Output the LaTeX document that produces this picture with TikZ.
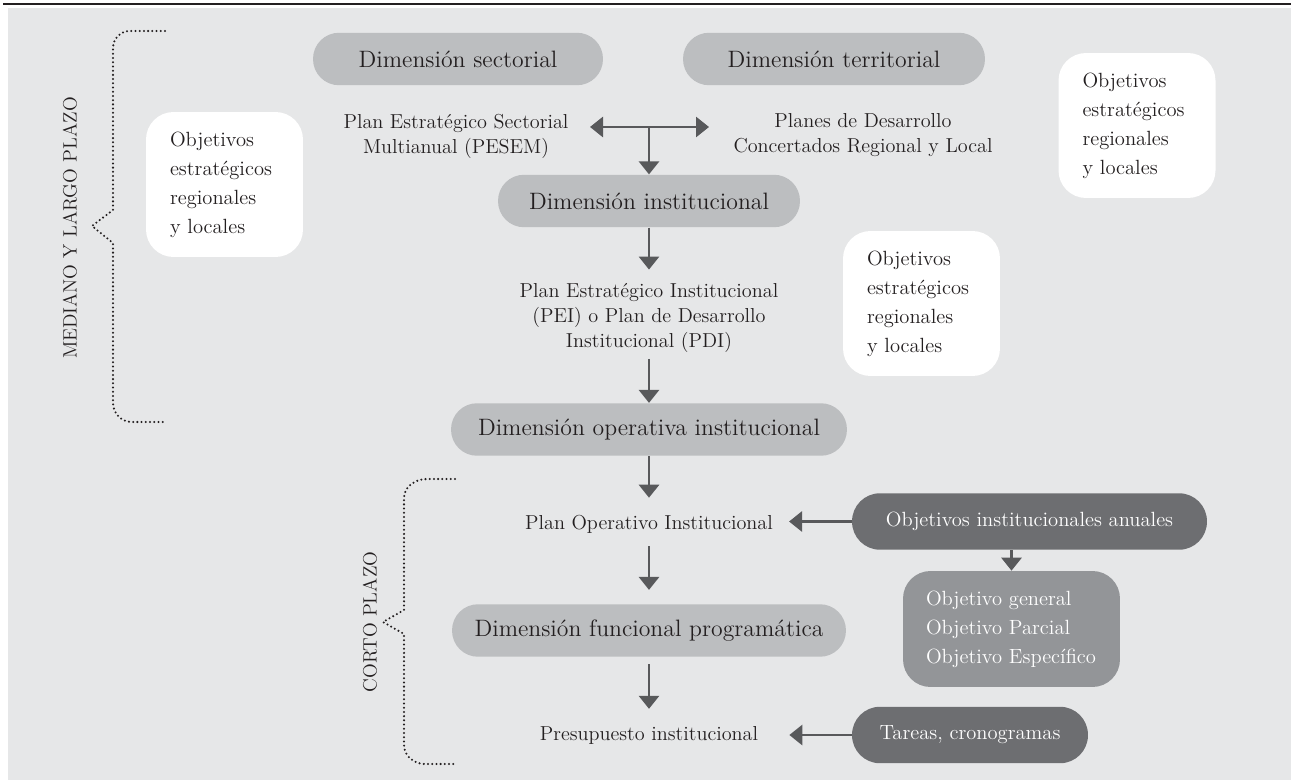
\documentclass[tikz,border=0pt]{standalone}
\usepackage{tikz}
\usetikzlibrary{arrows.meta}

\definecolor{bgc}{HTML}{E6E7E8}
\definecolor{pillc}{HTML}{BCBEC0}
\definecolor{darkc}{HTML}{6D6E71}
\definecolor{midc}{HTML}{939598}
\definecolor{arrc}{HTML}{58595B}
\definecolor{inkc}{HTML}{231F20}

\tikzset{
  pill/.style={fill=pillc, rounded corners=0.52cm, minimum height=1.05cm, text=inkc, font=\fontsize{13.5}{16}\selectfont},
  darkpill/.style={pill, fill=darkc, text=white, minimum height=1.13cm, rounded corners=0.56cm, font=\fontsize{11.7}{14}\selectfont},
  whitebox/.style={fill=white, rounded corners=0.55cm, minimum width=3.14cm, minimum height=2.9cm, text width=2.18cm, inner xsep=0.48cm, align=left, text=inkc, font=\fontsize{11.7}{16.5}\selectfont},
  midbox/.style={fill=midc, rounded corners=0.55cm, minimum width=4.34cm, minimum height=2.32cm, text width=3.42cm, inner xsep=0.46cm, align=left, text=white, font=\fontsize{11.7}{16.5}\selectfont},
  plantxt/.style={align=center, text=inkc, font=\fontsize{11.5}{14.3}\selectfont},
  sidetxt/.style={rotate=90, text=inkc, font=\fontsize{11}{13}\selectfont},
  arr/.style={draw=arrc, line width=1.6pt, -{Triangle[width=0.4cm,length=0.26cm]}},
  dotline/.style={draw=inkc, line width=1.3pt, line cap=round, dash pattern=on 0pt off 2.4pt}
}

\begin{document}
\begin{tikzpicture}[x=0.02cm, y=-0.02cm]
\useasboundingbox (0,0) rectangle (1291,780);
\fill[bgc] (8,8) rectangle (1291,780);
\draw[line width=0.9pt, inkc] (3,4) -- (1291,4);

\node[pill, minimum width=5.8cm] (sect) at (458,59) {Dimensión sectorial};
\node[pill, minimum width=6.04cm] (terr) at (834,59) {Dimensión territorial};
\node[whitebox] (objR) at (1137,125.5) {Objetivos\\estratégicos\\regionales\\y locales};
\node[whitebox] (objL) at (224.5,184.5) {Objetivos\\estratégicos\\regionales\\y locales};
\node[whitebox] (objM) at (921.5,303.5) {Objetivos\\estratégicos\\regionales\\y locales};

\node[plantxt] (pesem) at (456,136) {Plan Estratégico Sectorial\\Multianual (PESEM)};
\node[plantxt] (planes) at (863,135) {Planes de Desarrollo\\Concertados Regional y Local};
\node[pill, minimum width=6.04cm] (instit) at (649,201) {Dimensión institucional};
\node[plantxt] (pei) at (649,318) {Plan Estratégico Institucional\\(PEI) o Plan de Desarrollo\\Institucional (PDI)};
\node[pill, minimum width=7.92cm] (oper) at (649,429.5) {Dimensión operativa institucional};
\node[plantxt] (planop) at (649,524) {Plan Operativo Institucional};
\node[pill, minimum width=7.88cm] (func) at (649,630.5) {Dimensión funcional programática};
\node[plantxt] (presup) at (649,735) {Presupuesto institucional};

\node[darkpill, minimum width=7.1cm] (objanual) at (1029.5,521.5) {Objetivos institucionales anuales};
\node[midbox] (objbox) at (1011.5,629) {Objetivo general\\Objetivo Parcial\\Objetivo Específico};
\node[darkpill, minimum width=4.72cm] (tareas) at (970,735) {Tareas, cronogramas};

\node[sidetxt] (largo) at (70,228) {MEDIANO Y LARGO PLAZO};
\node[sidetxt] (corto) at (370,622) {CORTO PLAZO};

\coordinate (jn) at (649,127);
\coordinate (ltip) at (590,127);
\coordinate (rtip) at (709,127);
\draw[arr] (jn) -- (ltip);
\draw[arr] (jn) -- (rtip);
\draw[arr] (jn) -- (instit.north);
\draw[arr, shorten >=0.15cm] (instit.south) -- (pei.north);
\draw[arr] (pei.south) -- (oper.north);
\draw[arr, shorten >=0.22cm] (oper.south) -- (planop.north);
\draw[arr, shorten <=0.14cm, shorten >=0.28cm] (planop.south) -- (func.north);
\draw[arr, shorten <=0.14cm, shorten >=0.22cm] (func.south) -- (presup.north);
\draw[arr, shorten >=0.2cm] (objanual.west) -- (objanual.west -| planop.east);
\draw[arr, shorten >=0.5cm] (tareas.west) -- (tareas.west -| presup.east);
\draw[arr] (objanual.south -| objbox.north) -- (objbox.north);

\draw[dotline] (165,31) -- (130,31) to[out=180,in=90] (113,48) -- (113,210) -- (92,226) -- (113,243) -- (113,403) to[out=-90,in=180] (132,422) -- (165,422);
\draw[dotline] (455,479) -- (427,479) to[out=180,in=90] (404,498) -- (404,610) -- (383,622) -- (404,634) -- (404,745) to[out=-90,in=180] (425,764) -- (455,764);
\end{tikzpicture}
\end{document}
